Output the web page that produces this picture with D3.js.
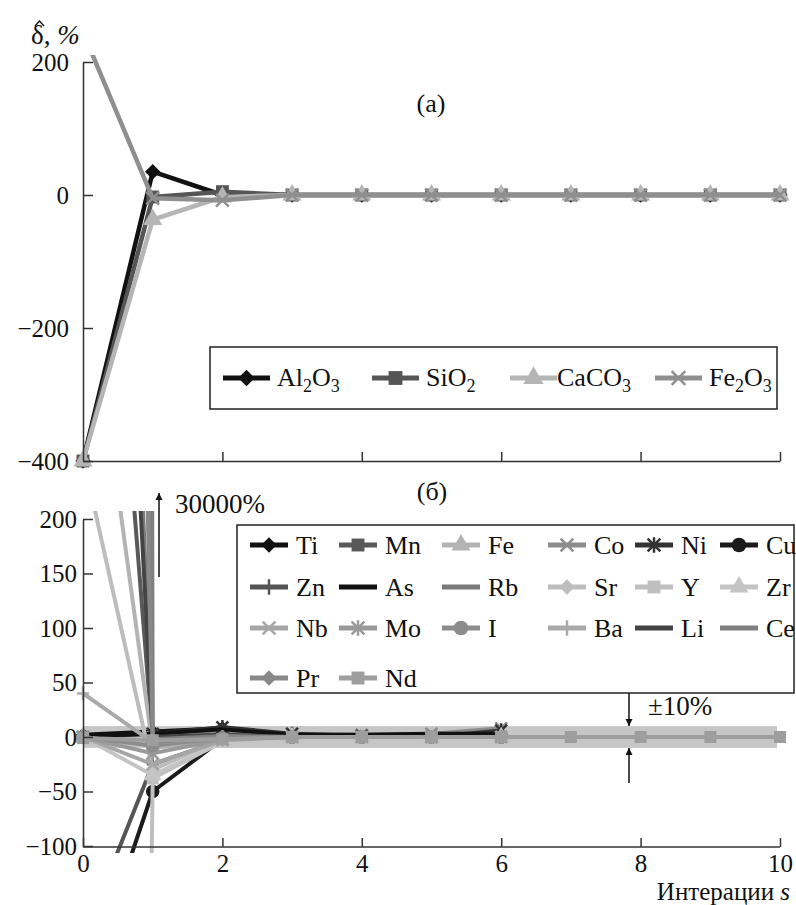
<!DOCTYPE html>
<html>
    <head>
        <meta charset="utf-8">
        <title>Сходимость итераций</title>
        <style>
            body { margin: 0; background: #fff; }
            .axis path, .axis line { stroke: #333; stroke-width: 1.5; }
        </style>
    </head>
    <body>
        <div id="chart"></div>
        <script src="https://cdn.jsdelivr.net/npm/d3@7"></script>
        <script>
            // iterations s
            const iterations = [0, 1, 2, 3, 4, 5, 6, 7, 8, 9, 10];
            const ticksA = [200, 0, -200, -400];
            const ticksB = [200, 150, 100, 50, 0, -50, -100];
            const ticksX = [0, 2, 4, 6, 8, 10];

            // panel (a), oxides
            const oxides = ["Al2O3", "SiO2", "CaCO3", "Fe2O3"];
            const al2o3 = [-400, 35, 0, 0, 0, 0, 0, 0, 0, 0, 0];
            const sio2  = [-400, -3, 5, 0, 0, 0, 0, 0, 0, 0, 0];
            const caco3 = [-400, -37, -3, 0, 0, 0, 0, 0, 0, 0, 0];
            const fe2o3 = [245, -5, -8, 0, 0, 0, 0, 0, 0, 0, 0];

            // panel (б), elements
            const elements = ["Ti", "Mn", "Fe", "Co", "Ni", "Cu",
                              "Zn", "As", "Rb", "Sr", "Y", "Zr",
                              "Nb", "Mo", "I", "Ba", "Li", "Ce",
                              "Pr", "Nd"];
            const ti = [2, 5, 8, 2, 1, 1, 0];
            const mn = [800, -3, 0, 0, 0, 0, 0];
            const fe = [460, -10, -3, 0, 0, 0, 0];
            const co = [6000, 0, 5, 3, 2, 3, 8];
            const ni = [0, 3, 9, 3, 1, 0, 6];
            const cu = [-240, -50, -2, 0, 0, 0, 0];
            const zn = [-185, -25, -3, 0, 0, 0, 0];
            const as = [1, 3, 7, 2, 2, 3, 3];
            const rb = [1500, -2, 0, 0, 0, 0, 0];
            const sr = [257, -30, -2, 0, 0, 0, 0];
            const yt = [-5000, -38, -4, 0, 0, 0, 0];
            const zr = [0, -35, -5, 0, 0, 0, 0];
            const nb = [0, -25, -3, 0, 0, 0, 0];
            const mo = [0, -15, -2, 0, 0, 0, 0];
            const iod = [0, -8, -1, 0, 0, 0, 0];
            const ba = [40, -5, 0, 0, 0, 0, 0];
            const li = [1200, 0, 2, 0, 0, 0, 0];
            const ce = [30000, -2, 1, 0, 0, 0, 0];
            const pr = [3000, -5, 0, 0, 0, 0, 0];
            const nd = [-1, -3, -2, 0, 0, 0, 0, 0, 0, 0, 0];
            const band = [-10, 10];

            const oxideSeries = [al2o3, sio2, caco3, fe2o3];
            const elementSeries = [ti, mn, fe, co, ni, cu, zn, as, rb, sr, yt, zr,
                                   nb, mo, iod, ba, li, ce, pr, nd];

            // styles
            const oxideStyle = [
                {color: "#111", mark: "diamond"},
                {color: "#555", mark: "square"},
                {color: "#b5b5b5", mark: "triangle"},
                {color: "#8f8f8f", mark: "x"}
            ];
            const elementStyle = [
                {color: "#111", mark: "diamond"},
                {color: "#595959", mark: "square"},
                {color: "#b3b3b3", mark: "triangle"},
                {color: "#8c8c8c", mark: "x"},
                {color: "#333", mark: "asterisk"},
                {color: "#1a1a1a", mark: "circle"},
                {color: "#555", mark: "plus"},
                {color: "#111", mark: "none"},
                {color: "#7a7a7a", mark: "none"},
                {color: "#bdbdbd", mark: "diamond"},
                {color: "#bfbfbf", mark: "square"},
                {color: "#c4c4c4", mark: "triangle"},
                {color: "#a6a6a6", mark: "x"},
                {color: "#999", mark: "asterisk"},
                {color: "#8c8c8c", mark: "circle"},
                {color: "#aaa", mark: "plus"},
                {color: "#444", mark: "none"},
                {color: "#808080", mark: "none"},
                {color: "#888", mark: "diamond"},
                {color: "#9e9e9e", mark: "square"}
            ];

            const w = 796, h = 905;
            const svg = d3.select("#chart").append("svg")
                .attr("width", w).attr("height", h);

            svg.append("defs").append("marker")
                .attr("id", "arrow")
                .attr("viewBox", "0 0 10 10")
                .attr("refX", 10).attr("refY", 5)
                .attr("markerWidth", 7).attr("markerHeight", 9)
                .attr("markerUnits", "userSpaceOnUse")
                .attr("orient", "auto")
                .append("path").attr("d", "M0,0L10,5L0,10Z").attr("fill", "#111");

            const clipA = svg.select("defs").append("clipPath").attr("id", "clipA");
            clipA.append("rect").attr("x", 70).attr("y", 55).attr("width", 730).attr("height", 420);
            const clipB = svg.select("defs").append("clipPath").attr("id", "clipB");
            clipB.append("rect").attr("x", 70).attr("y", 511).attr("width", 730).attr("height", 342);

            const x = d3.scaleLinear().domain([0, 10]).range([83, 780]);
            const yA = d3.scaleLinear().domain([-400, 200]).range([461, 62]);
            const yB = d3.scaleLinear().domain([-100, 200]).range([846, 519]);

            function drawMark(g, kind, color, cx, cy, s) {
                if (kind === "none") return;
                if (kind === "diamond" || kind === "square" || kind === "triangle" || kind === "circle") {
                    const type = {diamond: d3.symbolSquare, square: d3.symbolSquare,
                                  triangle: d3.symbolTriangle, circle: d3.symbolCircle}[kind];
                    const size = {diamond: 0.6, square: 0.85, triangle: 0.8, circle: 0.85}[kind] * s * s;
                    g.append("path")
                        .attr("d", d3.symbol().type(type).size(size)())
                        .attr("transform", "translate(" + cx + "," + cy + ")" + (kind === "diamond" ? " rotate(45)" : ""))
                        .attr("fill", color);
                } else {
                    const r = s / 2.2;
                    let d = "";
                    if (kind === "x" || kind === "asterisk") d += `M${-r},${-r}L${r},${r}M${-r},${r}L${r},${-r}`;
                    if (kind === "plus" || kind === "asterisk") d += `M0,${-r * 1.2}L0,${r * 1.2}`;
                    if (kind === "plus") d += `M${-r},0L${r},0`;
                    g.append("path")
                        .attr("d", d)
                        .attr("transform", "translate(" + cx + "," + cy + ")")
                        .attr("stroke", color).attr("stroke-width", 2.5).attr("fill", "none");
                }
            }

            function drawSeries(g, values, style, yScale, lw, ms) {
                const line = d3.line().x((d, i) => x(iterations[i])).y(d => yScale(d));
                g.append("path")
                    .datum(values)
                    .attr("d", line)
                    .attr("fill", "none")
                    .attr("stroke", style.color)
                    .attr("stroke-width", lw)
                    .attr("stroke-linejoin", "round");
                values.forEach((v, i) => drawMark(g, style.mark, style.color, x(iterations[i]), yScale(v), ms));
            }

            function formula(textSel, str) {
                const parts = str.match(/[A-Za-z]+|\d+/g);
                let sub = false;
                parts.forEach(p => {
                    const isNum = /\d/.test(p);
                    const t = textSel.append("tspan").text(p);
                    if (isNum) {
                        t.attr("font-size", 18).attr("dy", sub ? 0 : 6);
                        sub = true;
                    } else {
                        t.attr("dy", sub ? -6 : 0);
                        sub = false;
                    }
                });
            }

            // ---------- panel (a)
            const gA = svg.append("g").attr("clip-path", "url(#clipA)");
            oxideSeries.forEach((vals, k) => drawSeries(gA, vals, oxideStyle[k], yA, 4.5, 14));

            svg.append("g").attr("class", "axis")
                .attr("transform", "translate(83,0)")
                .call(d3.axisLeft(yA).tickValues(ticksA).tickSizeInner(-10).tickSizeOuter(0).tickPadding(14));
            svg.append("g").attr("class", "axis")
                .attr("transform", "translate(0,461)")
                .call(d3.axisBottom(x).tickValues([2, 4, 6, 8, 10]).tickSizeInner(-9).tickSizeOuter(0).tickFormat(""));

            const ylab = svg.append("text").attr("x", 31).attr("y", 44).attr("font-size", 27);
            ylab.append("tspan").text("δ");
            ylab.append("tspan").text(", ");
            ylab.append("tspan").attr("font-style", "italic").text("%");
            // hat over delta
            svg.append("path").attr("d", "M35,26L39.5,21L44,26")
                .attr("fill", "none").attr("stroke", "#111").attr("stroke-width", 1.3);

            svg.append("text").attr("x", 431).attr("y", 112).attr("text-anchor", "middle")
                .attr("font-size", 26).text("(a)");

            // legend (a)
            const legA = svg.append("g");
            legA.append("rect").attr("x", 210).attr("y", 347).attr("width", 567).attr("height", 62)
                .attr("fill", "#fff").attr("stroke", "#222").attr("stroke-width", 1.5);
            const legAx = [223, 372, 510, 655];
            oxides.forEach((name, k) => {
                const x0 = legAx[k], yy = 378;
                legA.append("line").attr("x1", x0).attr("x2", x0 + 47).attr("y1", yy).attr("y2", yy)
                    .attr("stroke", oxideStyle[k].color).attr("stroke-width", 5);
                drawMark(legA, oxideStyle[k].mark, oxideStyle[k].color, x0 + 23.5, yy, 15);
                const t = legA.append("text").attr("x", x0 + (k === 2 ? 47 : 54)).attr("y", yy + 8).attr("font-size", 26);
                formula(t, name);
            });

            // ---------- panel (б)
            const gB = svg.append("g").attr("clip-path", "url(#clipB)");
            gB.append("rect")
                .attr("x", x(0)).attr("width", x(10) - x(0) - 3)
                .attr("y", yB(band[1])).attr("height", yB(band[0]) - yB(band[1]))
                .attr("fill", "#c6c6c6");
            elementSeries.forEach((vals, k) => drawSeries(gB, vals, elementStyle[k], yB, 4, 13));

            svg.append("g").attr("class", "axis")
                .attr("transform", "translate(83,0)")
                .call(d3.axisLeft(yB).tickValues(ticksB).tickSizeInner(-10).tickSizeOuter(0).tickPadding(6));
            svg.append("g").attr("class", "axis")
                .attr("transform", "translate(0,847)")
                .call(d3.axisBottom(x).tickValues(ticksX).tickSizeInner(-9).tickSizeOuter(0).tickPadding(7))
                .call(g => g.select(".domain").attr("d", "M83,0H780"));

            const xlab = svg.append("text").attr("x", 790).attr("y", 900).attr("text-anchor", "end")
                .attr("font-size", 25);
            xlab.append("tspan").text("Интерации ");
            xlab.append("tspan").attr("font-style", "italic").text("s");

            svg.append("text").attr("x", 432).attr("y", 500).attr("text-anchor", "middle")
                .attr("font-size", 26).text("(б)");

            // 30000% arrow
            svg.append("line").attr("x1", 159).attr("x2", 159).attr("y1", 577).attr("y2", 493)
                .attr("stroke", "#111").attr("stroke-width", 1.5).attr("marker-end", "url(#arrow)");
            svg.append("text").attr("x", 175).attr("y", 513).attr("font-size", 27).text("30000%");

            // ±10% arrows
            svg.append("line").attr("x1", 629).attr("x2", 629).attr("y1", 693).attr("y2", yB(band[1]))
                .attr("stroke", "#111").attr("stroke-width", 1.5).attr("marker-end", "url(#arrow)");
            svg.append("line").attr("x1", 629).attr("x2", 629).attr("y1", 783).attr("y2", yB(band[0]))
                .attr("stroke", "#111").attr("stroke-width", 1.5).attr("marker-end", "url(#arrow)");
            svg.append("text").attr("x", 648).attr("y", 715).attr("font-size", 27).text("±10%");

            // legend (б)
            const legB = svg.append("g");
            legB.append("rect").attr("x", 237).attr("y", 525).attr("width", 557).attr("height", 168)
                .attr("fill", "#fff").attr("stroke", "#222").attr("stroke-width", 1.5);
            const legCols = [250, 339, 442, 548, 635, 720];
            const legRows = [545, 587, 628, 678];
            elements.forEach((name, k) => {
                const x0 = legCols[k % 6], yy = legRows[Math.floor(k / 6)];
                const st = elementStyle[k];
                legB.append("line").attr("x1", x0).attr("x2", x0 + 38).attr("y1", yy).attr("y2", yy)
                    .attr("stroke", st.color).attr("stroke-width", 5);
                drawMark(legB, st.mark, st.color, x0 + 19, yy, 14);
                legB.append("text").attr("x", x0 + 46).attr("y", yy + 9).attr("font-size", 26).text(name);
            });

            // all text in Times-like serif, as in the original figure
            svg.selectAll(".axis").attr("font-family", null).attr("font-size", null);
            svg.selectAll("text")
                .attr("font-family", "Liberation Serif")
                .attr("fill", "#111");
            svg.selectAll(".axis text").attr("font-size", 25);
        </script>
    </body>
</html>
